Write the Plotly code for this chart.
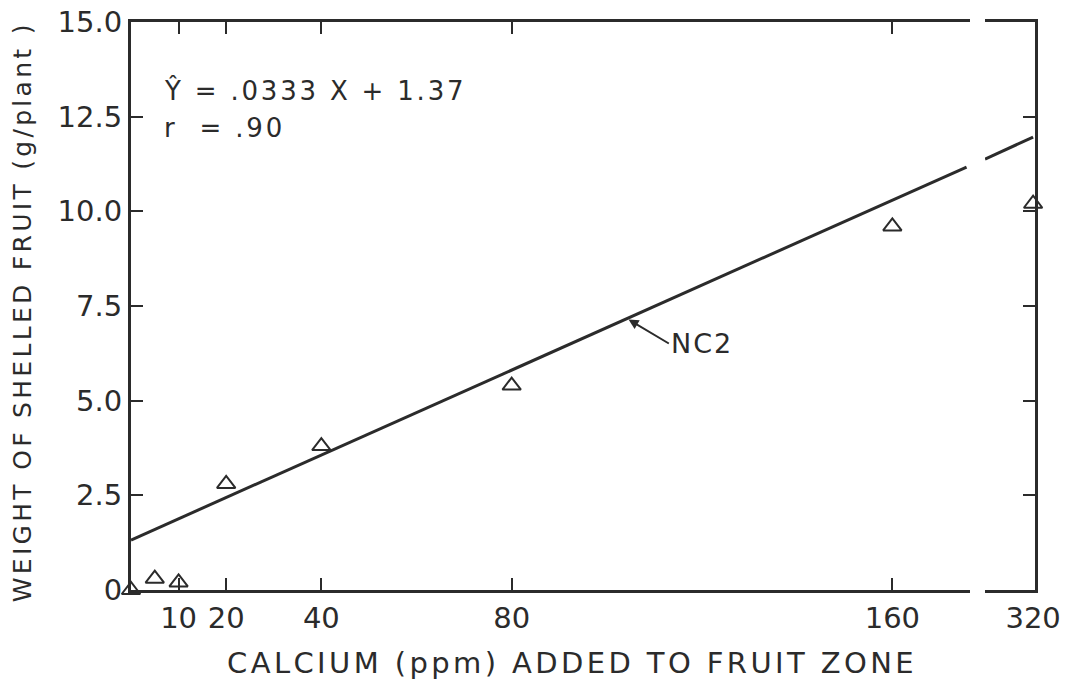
import plotly.graph_objects as go

# ---- data ----
x_ppm = [0, 5, 10, 20, 40, 80, 160]
y_weight = [0.0, 0.3, 0.2, 2.8, 3.8, 5.4, 9.6]
x_ppm_break = [320]
y_weight_break = [10.2]

# regression line as drawn (two pieces, broken axis)
line_x = [0, 175.6]
line_y = [1.32, 11.17]
line2_x = [309.9, 320]
line2_y = [11.38, 11.96]

x_tickvals = [10, 20, 40, 80, 160]
x_ticktext = ["10", "20", "40", "80", "160"]
y_tickvals = [0, 2.5, 5.0, 7.5, 10.0, 12.5, 15.0]
y_ticktext = ["0", "2.5", "5.0", "7.5", "10.0", "12.5", "15.0"]

INK = "#2b2b2b"
FONT = "DejaVu Sans"


def spaced(text, px):
    return "<span style='letter-spacing:%.1fpx'>%s</span>" % (px, text)


fig = go.Figure()

fig.add_trace(go.Scatter(x=line_x, y=line_y, mode="lines",
                         line=dict(color=INK, width=3), xaxis="x", yaxis="y",
                         showlegend=False, hoverinfo="skip"))
fig.add_trace(go.Scatter(x=line2_x, y=line2_y, mode="lines",
                         line=dict(color=INK, width=3), xaxis="x2", yaxis="y2",
                         showlegend=False, hoverinfo="skip", cliponaxis=False))
fig.add_trace(go.Scatter(x=x_ppm, y=y_weight, mode="markers",
                         marker=dict(symbol="triangle-up-open", size=16,
                                     color=INK, line=dict(width=2, color=INK)),
                         xaxis="x", yaxis="y", showlegend=False, cliponaxis=False))
fig.add_trace(go.Scatter(x=x_ppm_break, y=y_weight_break, mode="markers",
                         marker=dict(symbol="triangle-up-open", size=16,
                                     color=INK, line=dict(width=2, color=INK)),
                         xaxis="x2", yaxis="y2", showlegend=False, cliponaxis=False))

axis_common = dict(showline=True, linecolor=INK, linewidth=3, ticks="inside",
                   ticklen=12, tickwidth=2, tickcolor=INK, showgrid=False,
                   zeroline=False, automargin=False, ticklabeloverflow="allow",
                   tickfont=dict(family=FONT, size=29, color=INK))

fig.update_layout(
    width=1065, height=680,
    margin=dict(l=131, r=30, t=22, b=90, autoexpand=False),
    paper_bgcolor="white", plot_bgcolor="white",
    xaxis=dict(domain=[0, 0.928], range=[0, 176.3], mirror="ticks",
               tickvals=x_tickvals, ticktext=x_ticktext, anchor="y", **axis_common),
    xaxis2=dict(domain=[0.9447, 1], range=[309.9, 320.4], mirror="ticks",
                tickvals=[320], ticktext=["320"], anchor="y2",
                **{**axis_common, "ticklen": 0}),
    yaxis=dict(range=[0, 15], tickvals=y_tickvals, ticktext=y_ticktext,
               anchor="x", **axis_common),
    yaxis2=dict(range=[0, 15], tickvals=y_tickvals, anchor="x2", side="right",
                showticklabels=False, **axis_common),
)

fig.add_annotation(text=spaced("CALCIUM (ppm) ADDED TO FRUIT ZONE", 3.4),
                   xref="paper", yref="paper",
                   x=0.488, y=-0.128, xanchor="center", yanchor="middle", showarrow=False,
                   font=dict(family=FONT, size=29, color=INK))
fig.add_annotation(text=spaced("WEIGHT OF SHELLED FRUIT (g/plant )", 3.3),
                   xref="paper", yref="paper",
                   x=-0.12, y=0.49, xanchor="center", yanchor="middle", showarrow=False,
                   textangle=-90, font=dict(family=FONT, size=25, color=INK))
fig.add_annotation(text=spaced("Ŷ = .0333 X + 1.37", 2.8), xref="x", yref="y",
                   x=6.6, y=13.2,
                   xanchor="left", yanchor="middle", showarrow=False,
                   font=dict(family=FONT, size=26, color=INK))
fig.add_annotation(text=spaced("r  = .90", 2.8), xref="x", yref="y", x=6.6, y=12.2,
                   xanchor="left", yanchor="middle", showarrow=False,
                   font=dict(family=FONT, size=26, color=INK))
fig.add_annotation(text=spaced("NC2", 2.0), xref="x", yref="y", x=104.2, y=7.17,
                   ax=42, ay=25, axref="pixel", ayref="pixel", xanchor="left",
                   showarrow=True, arrowhead=2, arrowsize=1, arrowwidth=2,
                   arrowcolor=INK, standoff=2,
                   font=dict(family=FONT, size=27, color=INK))

# remove the browser's default 8px body margin so the figure fills the window
fig.write_html("out.html",
               config={"displayModeBar": False},
               post_script="document.body.style.margin='0';"
                           "document.body.style.overflow='hidden';")
